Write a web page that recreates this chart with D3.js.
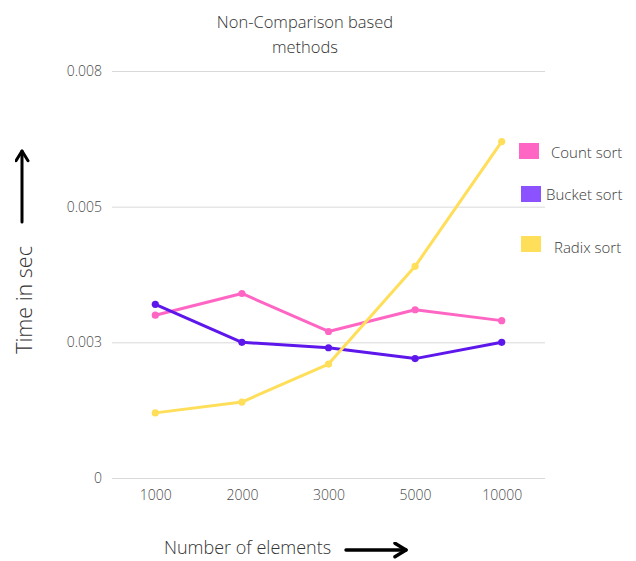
<!DOCTYPE html>
<html>
<head>
<meta charset="utf-8">
<script src="https://cdn.jsdelivr.net/npm/d3@7"></script>
<style>
  html, body { margin: 0; padding: 0; background: #fff; }
  svg { display: block; font-family: "Open Sans", sans-serif; }
</style>
</head>
<body>
<svg id="chart" width="636" height="561"></svg>
<script>
// Input sizes on the x axis
const categories = ["1000", "2000", "3000", "5000", "10000"];

// Running time in seconds for each method
const countSort  = [0.0030, 0.0034, 0.0027, 0.0031, 0.0029];
const bucketSort = [0.0032, 0.0025, 0.0024, 0.0022, 0.0025];
const radixSort  = [0.0012, 0.0014, 0.0021, 0.0039, 0.0062];

const seriesNames = ["Count sort", "Bucket sort", "Radix sort"];

// y tick positions and their printed labels
const yTickValues = [0, 0.0025, 0.005, 0.0075];
const yTickLabels = ["0", "0.003", "0.005", "0.008"];

const series = [
  { name: seriesNames[0], values: countSort,  color: "#ff66c4", swatch: "#ff66c4" },
  { name: seriesNames[1], values: bucketSort, color: "#5e17eb", swatch: "#8c52ff" },
  { name: seriesNames[2], values: radixSort,  color: "#ffde59", swatch: "#ffde59" }
];

const svg = d3.select("#chart");
const plot = { left: 112, right: 545, top: 71, bottom: 478 };

const x = d3.scalePoint()
  .domain(categories)
  .range([plot.left, plot.right])
  .padding(0.5);

const y = d3.scaleLinear()
  .domain([0, 0.0075])
  .range([plot.bottom, plot.top]);

// Title
const title = svg.append("text")
  .attr("x", 305).attr("text-anchor", "middle")
  .attr("font-size", 16.5).attr("font-weight", 300).attr("fill", "#333");
title.append("tspan").attr("x", 305).attr("y", 28).text("Non-Comparison based");
title.append("tspan").attr("x", 305).attr("y", 53).text("methods");

// Horizontal gridlines with tick labels
const yAxis = d3.axisLeft(y)
  .tickValues(yTickValues)
  .tickSize(-(plot.right - plot.left))
  .tickPadding(10)
  .tickFormat((d, i) => yTickLabels[i]);

const gy = svg.append("g")
  .attr("transform", `translate(${plot.left},0)`)
  .call(yAxis);
gy.select(".domain").remove();
gy.selectAll(".tick line").attr("stroke", "#d9d9d9").attr("stroke-width", 1);
gy.selectAll(".tick text")
  .attr("fill", "#4a4a4a").attr("font-size", 14).attr("font-weight", 300)
  .attr("font-family", "'Open Sans', sans-serif");

// Category labels under the baseline
const xAxis = d3.axisBottom(x).tickSize(0).tickPadding(12);
const gx = svg.append("g")
  .attr("transform", `translate(0,${plot.bottom})`)
  .call(xAxis);
gx.select(".domain").remove();
gx.selectAll(".tick text")
  .attr("fill", "#4a4a4a").attr("font-size", 14).attr("font-weight", 300)
  .attr("font-family", "'Open Sans', sans-serif");

// Lines and markers
const line = d3.line()
  .x((d, i) => x(categories[i]))
  .y(d => y(d));

series.forEach(s => {
  svg.append("path")
    .datum(s.values)
    .attr("fill", "none")
    .attr("stroke", s.color)
    .attr("stroke-width", 3)
    .attr("stroke-linejoin", "round")
    .attr("d", line);
  svg.append("g").selectAll("circle")
    .data(s.values)
    .join("circle")
    .attr("cx", (d, i) => x(categories[i]))
    .attr("cy", d => y(d))
    .attr("r", 3.6)
    .attr("fill", s.color);
});

// Legend
const legendPos = [
  { sx: 519, sy: 143, tx: 551, ty: 158 },
  { sx: 521, sy: 186, tx: 546, ty: 200 },
  { sx: 521, sy: 236, tx: 554, ty: 253 }
];
series.forEach((s, i) => {
  const p = legendPos[i];
  svg.append("rect")
    .attr("x", p.sx).attr("y", p.sy)
    .attr("width", 20).attr("height", 16)
    .attr("fill", s.swatch);
  svg.append("text")
    .attr("x", p.tx).attr("y", p.ty)
    .attr("font-size", 15).attr("font-weight", 300).attr("fill", "#3a3a3a")
    .text(s.name);
});

// Axis titles with direction arrows
svg.append("text")
  .attr("transform", "translate(32,300) rotate(-90)")
  .attr("text-anchor", "middle")
  .attr("font-size", 21.5).attr("font-weight", 300).attr("fill", "#333")
  .text("Time in sec");

svg.append("text")
  .attr("x", 164).attr("y", 554)
  .attr("font-size", 18).attr("font-weight", 300).attr("fill", "#333")
  .text("Number of elements");

const defs = svg.append("defs");
defs.append("marker")
  .attr("id", "head").attr("viewBox", "0 0 10 10")
  .attr("refX", 8).attr("refY", 5)
  .attr("markerWidth", 5).attr("markerHeight", 5)
  .attr("orient", "auto")
  .append("path")
  .attr("d", "M1.5,1 L8,5 L1.5,9")
  .attr("fill", "none").attr("stroke", "#000").attr("stroke-width", 2)
  .attr("stroke-linecap", "round").attr("stroke-linejoin", "round");

svg.append("line")
  .attr("x1", 22).attr("y1", 222).attr("x2", 22).attr("y2", 151)
  .attr("stroke", "#000").attr("stroke-width", 3).attr("stroke-linecap", "round")
  .attr("marker-end", "url(#head)");

svg.append("line")
  .attr("x1", 346).attr("y1", 550).attr("x2", 406).attr("y2", 550)
  .attr("stroke", "#000").attr("stroke-width", 3.4).attr("stroke-linecap", "round")
  .attr("marker-end", "url(#head)");
</script>
</body>
</html>
